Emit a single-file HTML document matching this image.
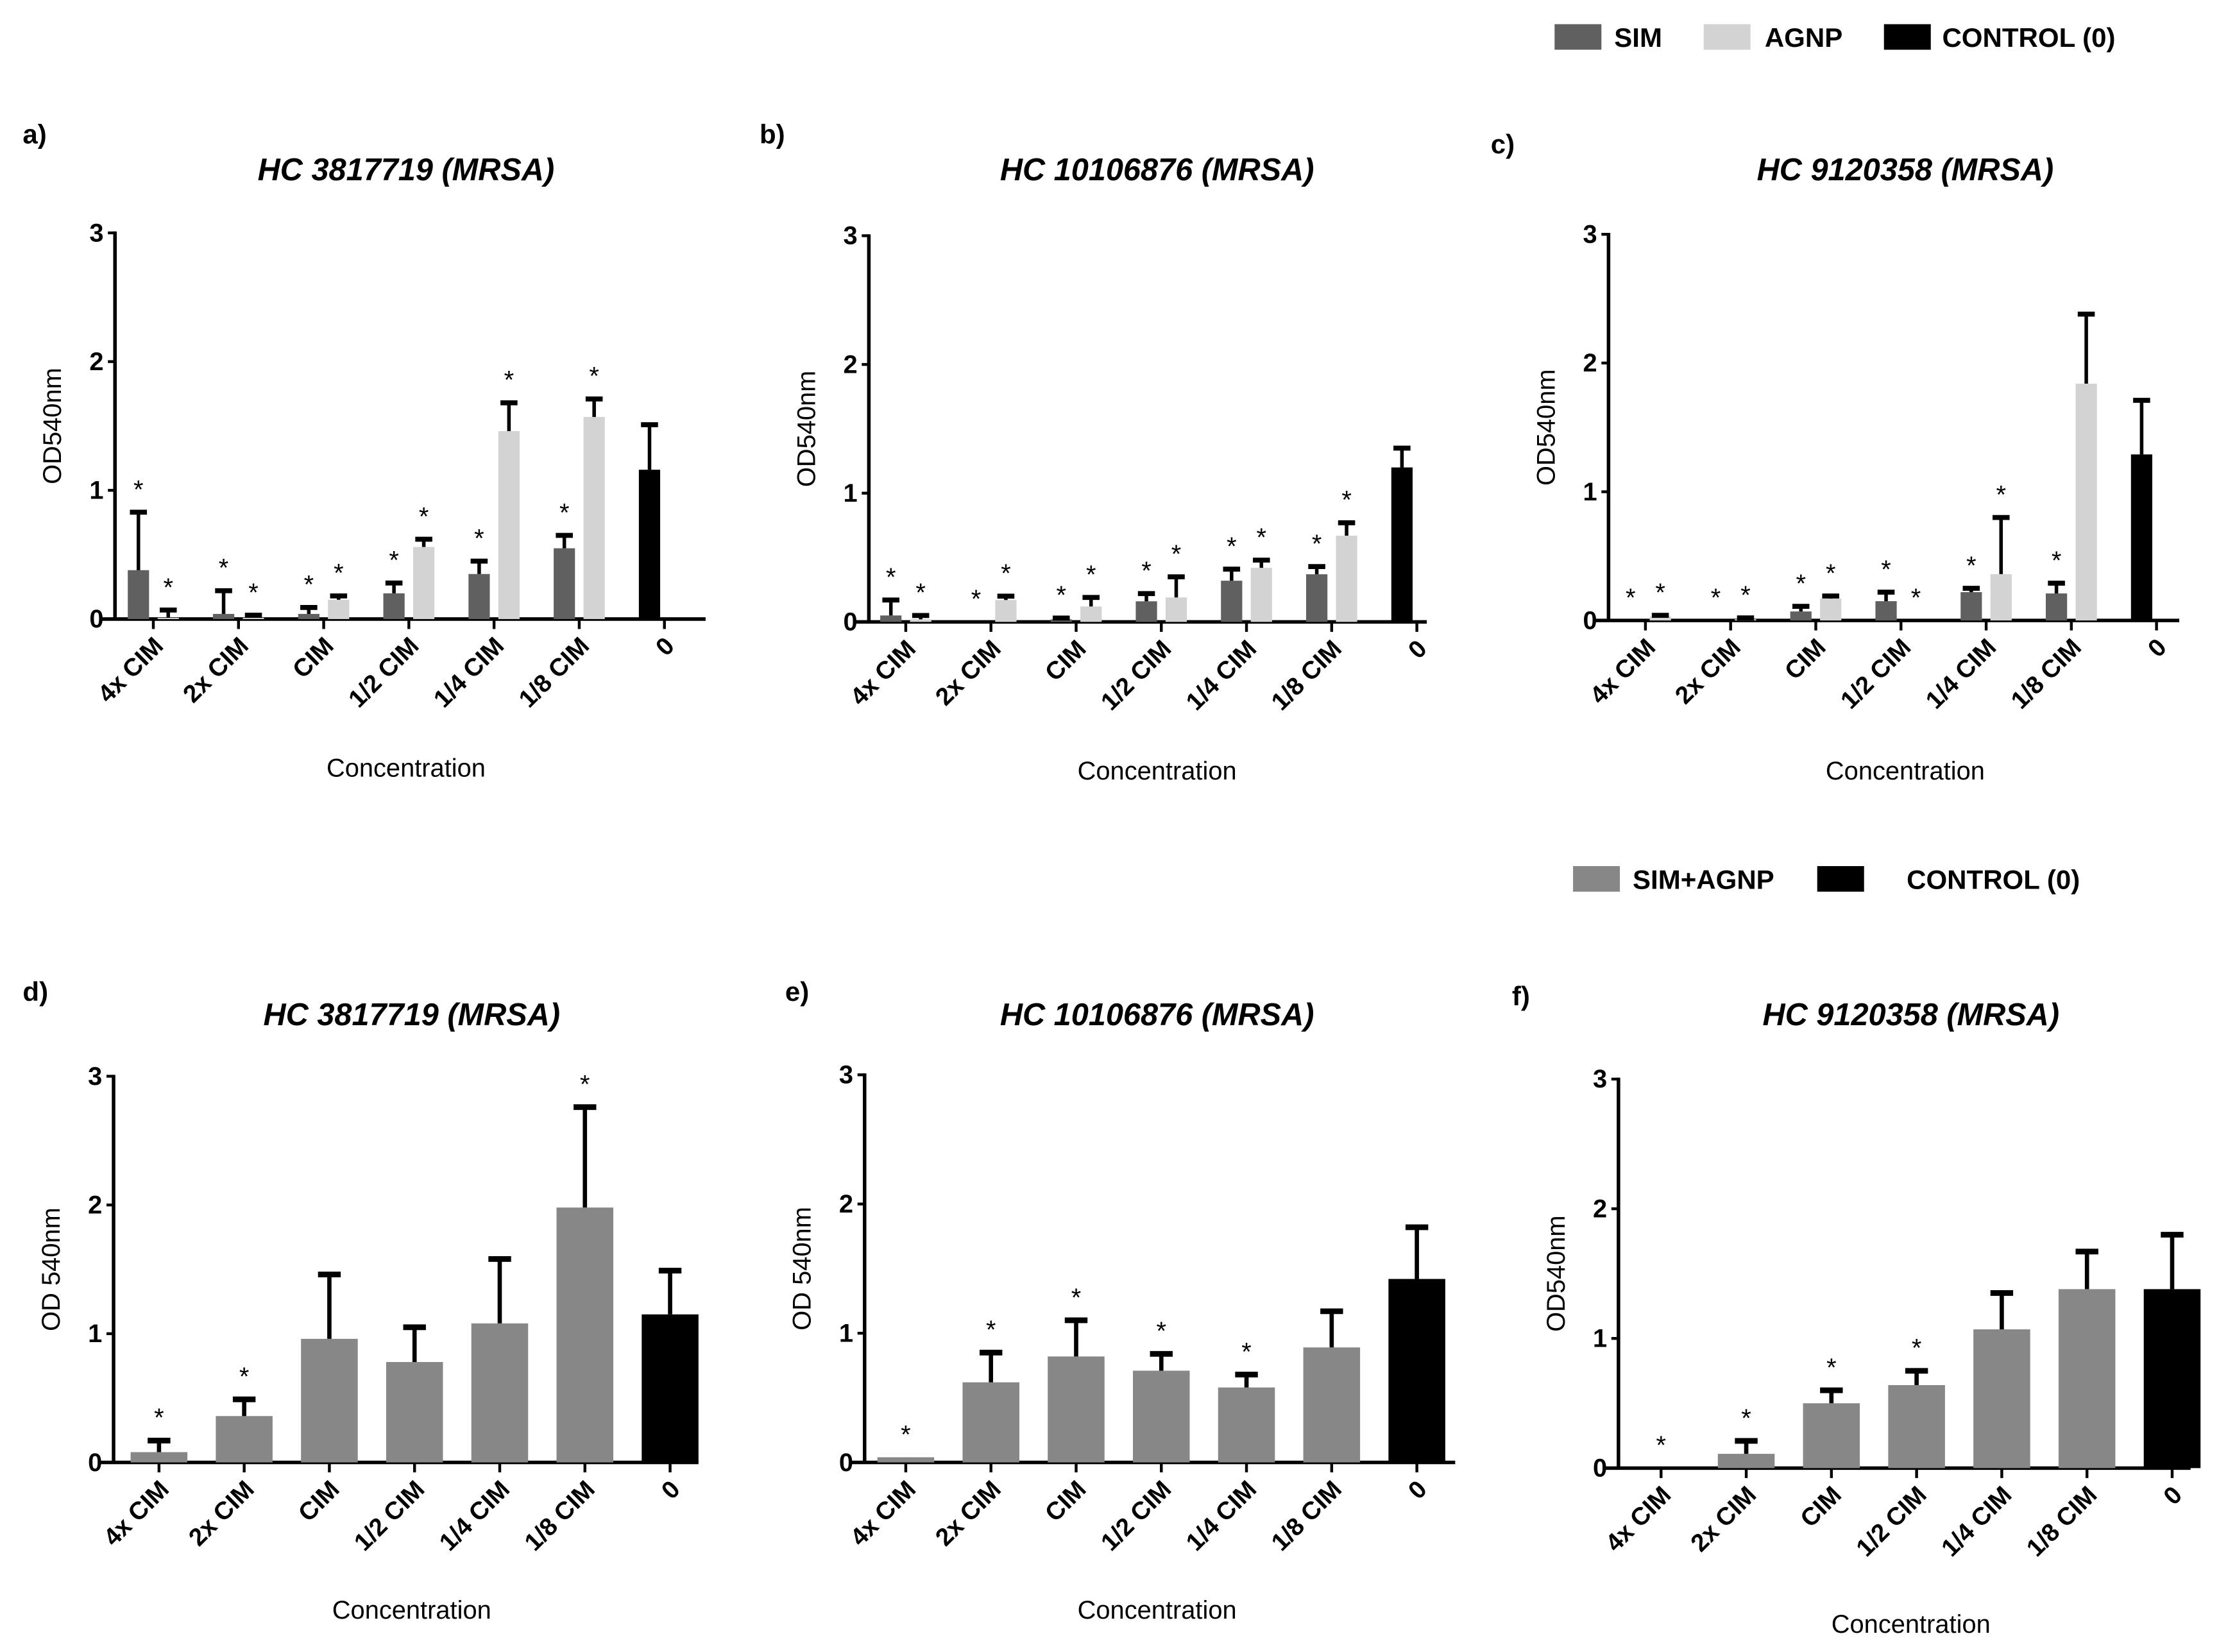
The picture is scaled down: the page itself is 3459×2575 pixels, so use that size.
<!DOCTYPE html>
<html><head><meta charset="utf-8"><style>
html,body{margin:0;padding:0;background:#fff;}
svg{display:block;font-family:"Liberation Sans",sans-serif;}
</style></head>
<body>
<svg id="chart" width="3459" height="2575" viewBox="0 0 1563 1163.5" xmlns="http://www.w3.org/2000/svg">
<g>
<rect x="1095" y="17" width="33" height="18" fill="#606060"/>
<text x="1137" y="33" font-size="19" font-weight="bold">SIM</text>
<rect x="1200" y="17" width="33" height="18" fill="#d3d3d3"/>
<text x="1243" y="33" font-size="19" font-weight="bold">AGNP</text>
<rect x="1327" y="17" width="33" height="18" fill="#000"/>
<text x="1368" y="33" font-size="19" font-weight="bold">CONTROL (0)</text>
</g>
<g>
<rect x="1108" y="610" width="33" height="18" fill="#878787"/>
<text x="1150" y="626" font-size="19" font-weight="bold">SIM+AGNP</text>
<rect x="1280" y="610" width="33" height="18" fill="#000"/>
<text x="1343" y="626" font-size="19" font-weight="bold">CONTROL (0)</text>
</g>
</svg>
<script>
const categories = ["4x CIM","2x CIM","CIM","1/2 CIM","1/4 CIM","1/8 CIM","0"];
const yTicks = [0,1,2,3];
// Panel a
const aSim = [0.38,0.04,0.04,0.2,0.35,0.55];
const aSimErr = [0.45,0.18,0.05,0.08,0.1,0.1];
const aAgnp = [0.01,0.01,0.15,0.56,1.46,1.57];
const aAgnpErr = [0.06,0.02,0.03,0.06,0.22,0.14];
const aCtrl = [1.16]; const aCtrlErr = [0.35];
const aSimStar = [1,1,1,1,1,1]; const aAgnpStar = [1,1,1,1,1,1];
// Panel b
const bSim = [0.05,0,0.02,0.16,0.32,0.37];
const bSimErr = [0.12,0,0.01,0.06,0.09,0.06];
const bAgnp = [0.02,0.17,0.12,0.19,0.42,0.67];
const bAgnpErr = [0.03,0.03,0.07,0.16,0.06,0.1];
const bCtrl = [1.2]; const bCtrlErr = [0.15];
const bSimStar = [1,1,1,1,1,1]; const bAgnpStar = [1,1,1,1,1,1];
// Panel c
const cSim = [0,0,0.07,0.15,0.22,0.21];
const cSimErr = [0,0,0.04,0.07,0.03,0.08];
const cAgnp = [0.03,0.01,0.17,0,0.36,1.84];
const cAgnpErr = [0.01,0.01,0.02,0,0.44,0.54];
const cCtrl = [1.29]; const cCtrlErr = [0.42];
const cSimStar = [1,1,1,1,1,1]; const cAgnpStar = [1,1,1,1,1,0];
// Panels d,e,f (SIM+AGNP)
const dVal = [0.08,0.36,0.96,0.78,1.08,1.98];
const dErr = [0.09,0.13,0.5,0.27,0.5,0.78];
const dCtrl = [1.15]; const dCtrlErr = [0.34];
const dStar = [1,1,0,0,0,1];
const eVal = [0.04,0.62,0.82,0.71,0.58,0.89];
const eErr = [0,0.23,0.28,0.13,0.1,0.28];
const eCtrl = [1.42]; const eCtrlErr = [0.4];
const eStar = [1,1,1,1,1,0];
const fVal = [0,0.11,0.5,0.64,1.07,1.38];
const fErr = [0,0.1,0.1,0.11,0.28,0.29];
const fCtrl = [1.38]; const fCtrlErr = [0.42];
const fStar = [1,1,1,1,0,0];

const svg = document.getElementById('chart');
const NS = 'http://www.w3.org/2000/svg';
function mk(tag, attrs, parent, txt){
  const e = document.createElementNS(NS, tag);
  for (const k in attrs) e.setAttribute(k, attrs[k]);
  if (txt !== undefined) e.textContent = txt;
  parent.appendChild(e); return e;
}

function panel(p){
  const g = mk('g', {}, svg);
  
  
  const yS = v => p.y0 - v * (p.y0 - p.y3) / 3;
  const xS = i => p.ax + p.off + i * 60;
  const lt = mk('text', {x:p.lx, y:p.ly, 'font-size':19, 'font-weight':'bold'}, g, p.id + ')');
  
  
  const tt = mk('text', {x:p.tx, y:p.ty, 'font-size':22, 'font-weight':'bold', 'font-style':'italic', 'text-anchor':'middle'}, g, p.title);
  
  
  const ya = mk('line', {x1:p.ax, y1:yS(3)-1, x2:p.ax, y2:p.y0, stroke:'#000', 'stroke-width':2.5}, g);
  
  
  yTicks.forEach(t => {
    mk('line', {x1:p.ax-5, y1:yS(t), x2:p.ax, y2:yS(t), stroke:'#000', 'stroke-width':2}, g);
    const tl = mk('text', {x:p.ax-8, y:yS(t)+6, 'font-size':18, 'font-weight':'bold', 'text-anchor':'end'}, g, t);
    
    
  });
  const yt = mk('text', {x:0, y:0, 'font-size':18, 'text-anchor':'middle', transform:`translate(${p.ax-38},${(yS(3)+p.y0)/2}) rotate(-90)`}, g, p.ytitle);
  
  
  const xa = mk('line', {x1:p.ax-10, y1:p.y0, x2:p.xend, y2:p.y0, stroke:'#000', 'stroke-width':2.5}, g);
  
  
  categories.forEach((c, i) => {
    const x = xS(i);
    mk('line', {x1:x, y1:p.y0, x2:x, y2:p.y0+7, stroke:'#000', 'stroke-width':2}, g);
    const xl = mk('text', {x:0, y:0, 'font-size':17.5, 'font-weight':'bold', 'text-anchor':'end', transform:`translate(${x+8},${p.y0+20}) rotate(-45)`}, g, c);
    
    
  });
  const xt = mk('text', {x:p.cx, y:p.xty, 'font-size':18, 'text-anchor':'middle'}, g, 'Concentration');
  
  

  function bar(x, w, v, err, color, star, name){
    const top = yS(v);
    if (v > 0) {
      const r = mk('rect', {x:x, y:top, width:w, height:p.y0-top, fill:color}, g);
      
      
    }
    const cx = x + w/2;
    let peak = top;
    if (err > 0) {
      const et = yS(v + err);
      const cw = Math.min(w/2.5, 8);
      mk('line', {x1:cx, y1:top, x2:cx, y2:et, stroke:'#000', 'stroke-width':p.ew}, g);
      mk('line', {x1:cx-cw, y1:et, x2:cx+cw, y2:et, stroke:'#000', 'stroke-width':p.ew+1}, g);
      peak = et;
    }
    if (star) {
      const s = mk('text', {x:cx, y:peak-10, 'font-size':18, 'text-anchor':'middle'}, g, '*');
      
      
    }
  }
  if (p.grouped) {
    p.s1.forEach((v, i) => bar(xS(i)-18, 15, v, p.e1[i], '#606060', p.st1[i], 'bar-sim'));
    p.s2.forEach((v, i) => bar(xS(i)+3, 15, v, p.e2[i], '#d3d3d3', p.st2[i], 'bar-agnp'));
    bar(xS(6)-18, 15, p.ctrl[0], p.ctrlErr[0], '#000', 0, 'bar-control');
  } else {
    p.s1.forEach((v, i) => bar(xS(i)-20, 40, v, p.e1[i], '#878787', p.st1[i], 'bar-sim-agnp'));
    bar(xS(6)-20, 40, p.ctrl[0], p.ctrlErr[0], '#000', 0, 'bar-control');
  }
}

panel({id:'a', grouped:true, ax:81, off:27, y0:436, y3:164, xend:497, lx:16, ly:101, tx:286, ty:127, title:'HC 3817719 (MRSA)', cx:286, xty:547, ytitle:'OD540nm', ew:2.5,
  s1:aSim, e1:aSimErr, s2:aAgnp, e2:aAgnpErr, ctrl:aCtrl, ctrlErr:aCtrlErr, st1:aSimStar, st2:aAgnpStar});
panel({id:'b', grouped:true, ax:612, off:26, y0:438, y3:166, xend:1005, lx:535, ly:101, tx:815, ty:127, title:'HC 10106876 (MRSA)', cx:815, xty:549, ytitle:'OD540nm', ew:2.5,
  s1:bSim, e1:bSimErr, s2:bAgnp, e2:bAgnpErr, ctrl:bCtrl, ctrlErr:bCtrlErr, st1:bSimStar, st2:bAgnpStar});
panel({id:'c', grouped:true, ax:1133, off:26, y0:437, y3:165, xend:1535, lx:1050, ly:108, tx:1342, ty:127, title:'HC 9120358 (MRSA)', cx:1342, xty:549, ytitle:'OD540nm', ew:2.5,
  s1:cSim, e1:cSimErr, s2:cAgnp, e2:cAgnpErr, ctrl:cCtrl, ctrlErr:cCtrlErr, st1:cSimStar, st2:cAgnpStar});
panel({id:'d', grouped:false, ax:80, off:32, y0:1030, y3:758, xend:492, lx:16, ly:705, tx:290, ty:722, title:'HC 3817719 (MRSA)', cx:290, xty:1140, ytitle:'OD 540nm', ew:3,
  s1:dVal, e1:dErr, ctrl:dCtrl, ctrlErr:dCtrlErr, st1:dStar});
panel({id:'e', grouped:false, ax:609, off:29, y0:1030, y3:757, xend:1025, lx:553, ly:705, tx:815, ty:722, title:'HC 10106876 (MRSA)', cx:815, xty:1140, ytitle:'OD 540nm', ew:3,
  s1:eVal, e1:eErr, ctrl:eCtrl, ctrlErr:eCtrlErr, st1:eStar});
panel({id:'f', grouped:false, ax:1140, off:30, y0:1034, y3:760, xend:1543, lx:1065, ly:708, tx:1346, ty:722, title:'HC 9120358 (MRSA)', cx:1346, xty:1150, ytitle:'OD540nm', ew:3,
  s1:fVal, e1:fErr, ctrl:fCtrl, ctrlErr:fCtrlErr, st1:fStar});
</script>
</body></html>
